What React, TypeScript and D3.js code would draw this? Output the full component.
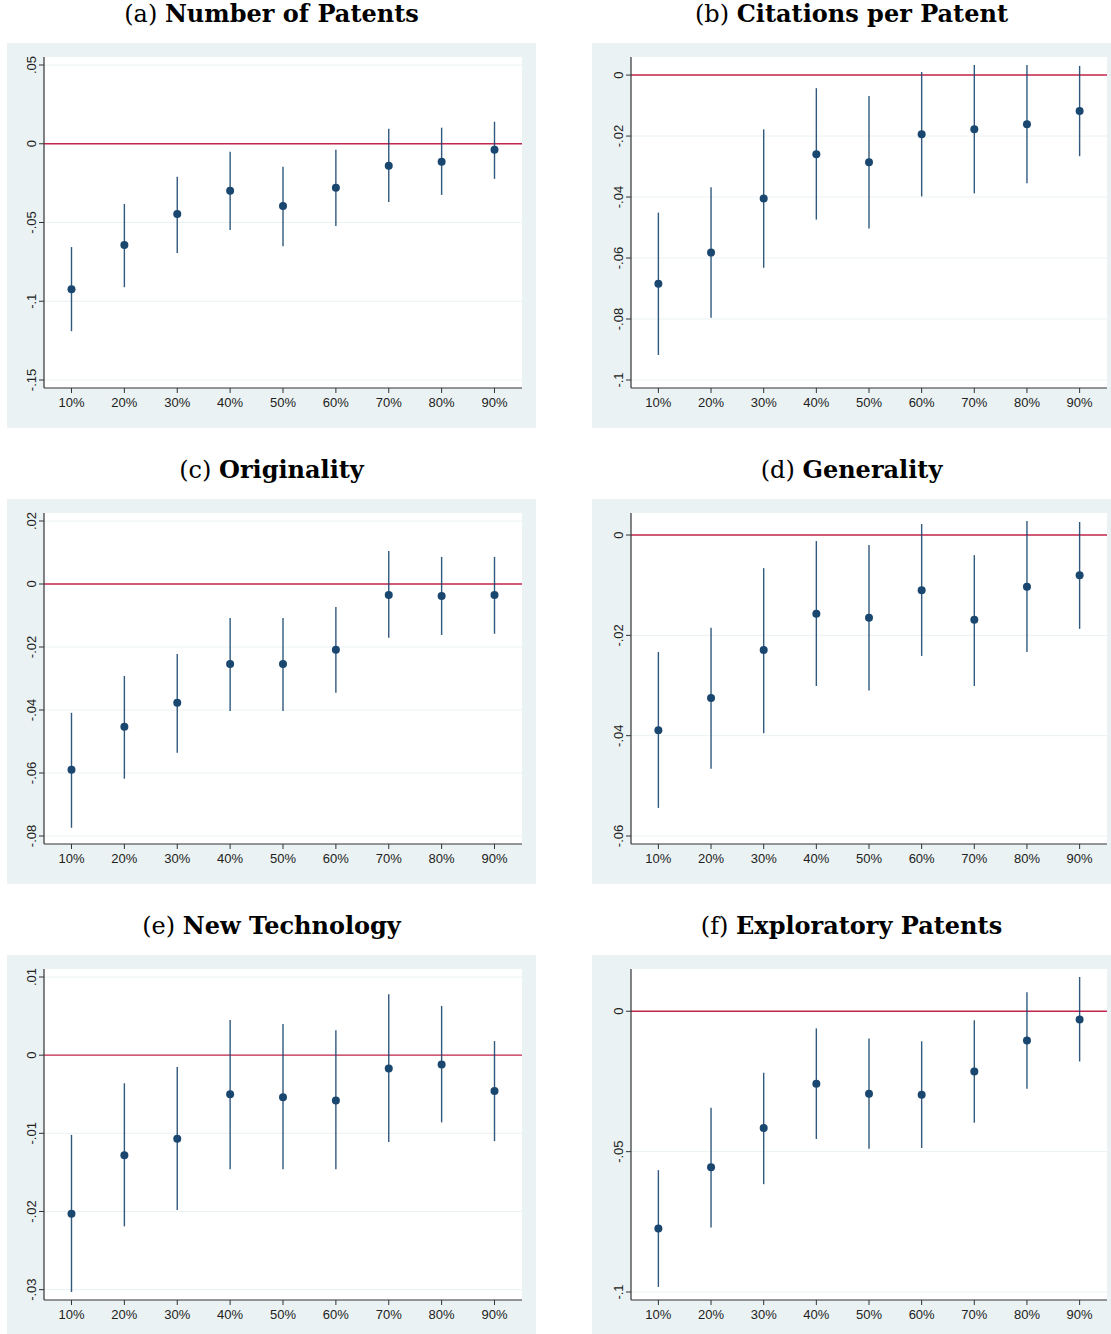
import React from 'react';
import * as d3 from 'd3';

// decile groups on the x axis
const deciles = ['10%', '20%', '30%', '40%', '50%', '60%', '70%', '80%', '90%'];

// (a) number of patents
const patentsEst = [-0.0924, -0.0643, -0.0446, -0.0299, -0.0395, -0.028, -0.014, -0.0115, -0.0038];
const patentsLo = [-0.119, -0.0911, -0.0694, -0.0548, -0.065, -0.0522, -0.037, -0.0325, -0.0223];
const patentsHi = [-0.0656, -0.0382, -0.021, -0.0051, -0.0146, -0.0038, 0.0096, 0.0102, 0.014];
const patentsTicks = [0.05, 0, -0.05, -0.1, -0.15];
const patentsTickLabels = ['.05', '0', '-.05', '-.1', '-.15'];

// (b) citations per patent
const citesEst = [-0.0684, -0.0582, -0.0405, -0.026, -0.0286, -0.0194, -0.0178, -0.0161, -0.0118];
const citesLo = [-0.0918, -0.0796, -0.0632, -0.0474, -0.0503, -0.0398, -0.0388, -0.0355, -0.0266];
const citesHi = [-0.0451, -0.0368, -0.0178, -0.0043, -0.0069, 0.001, 0.0033, 0.0033, 0.003];
const citesTicks = [0, -0.02, -0.04, -0.06, -0.08, -0.1];
const citesTickLabels = ['0', '-.02', '-.04', '-.06', '-.08', '-.1'];

// (c) originality
const origEst = [-0.059, -0.0453, -0.0377, -0.0254, -0.0254, -0.0209, -0.0035, -0.0038, -0.0035];
const origLo = [-0.0774, -0.0618, -0.0536, -0.0403, -0.0403, -0.0345, -0.0171, -0.0162, -0.0158];
const origHi = [-0.0409, -0.0292, -0.0222, -0.0108, -0.0108, -0.0073, 0.0105, 0.0086, 0.0086];
const origTicks = [0.02, 0, -0.02, -0.04, -0.06, -0.08];
const origTickLabels = ['.02', '0', '-.02', '-.04', '-.06', '-.08'];

// (d) generality
const genEst = [-0.0389, -0.0325, -0.0229, -0.0157, -0.0165, -0.011, -0.0169, -0.0103, -0.008];
const genLo = [-0.0544, -0.0466, -0.0395, -0.0301, -0.031, -0.0241, -0.0301, -0.0233, -0.0187];
const genHi = [-0.0233, -0.0185, -0.0066, -0.0012, -0.002, 0.0022, -0.004, 0.0028, 0.0026];
const genTicks = [0, -0.02, -0.04, -0.06];
const genTickLabels = ['0', '-.02', '-.04', '-.06'];

// (e) new technology
const newTechEst = [-0.0203, -0.0128, -0.0107, -0.005, -0.0054, -0.0058, -0.0017, -0.0012, -0.0046];
const newTechLo = [-0.0303, -0.0219, -0.0198, -0.0146, -0.0146, -0.0146, -0.0111, -0.0086, -0.011];
const newTechHi = [-0.0102, -0.0036, -0.0015, 0.0045, 0.004, 0.0032, 0.0078, 0.0063, 0.0018];
const newTechTicks = [0.01, 0, -0.01, -0.02, -0.03];
const newTechTickLabels = ['.01', '0', '-.01', '-.02', '-.03'];

// (f) exploratory patents
const explEst = [-0.0774, -0.0556, -0.0416, -0.0258, -0.0294, -0.0297, -0.0215, -0.0104, -0.0029];
const explLo = [-0.0982, -0.077, -0.0616, -0.0455, -0.049, -0.0487, -0.0397, -0.0276, -0.0179];
const explHi = [-0.0566, -0.0344, -0.0219, -0.0061, -0.0097, -0.0107, -0.0032, 0.0068, 0.0122];
const explTicks = [0, -0.05, -0.1];
const explTickLabels = ['0', '-.05', '-.1'];

const panels = [
  { letter: '(a)', title: 'Number of Patents', est: patentsEst, lo: patentsLo, hi: patentsHi, ticks: patentsTicks, labels: patentsTickLabels },
  { letter: '(b)', title: 'Citations per Patent', est: citesEst, lo: citesLo, hi: citesHi, ticks: citesTicks, labels: citesTickLabels },
  { letter: '(c)', title: 'Originality', est: origEst, lo: origLo, hi: origHi, ticks: origTicks, labels: origTickLabels },
  { letter: '(d)', title: 'Generality', est: genEst, lo: genLo, hi: genHi, ticks: genTicks, labels: genTickLabels },
  { letter: '(e)', title: 'New Technology', est: newTechEst, lo: newTechLo, hi: newTechHi, ticks: newTechTicks, labels: newTechTickLabels },
  { letter: '(f)', title: 'Exploratory Patents', est: explEst, lo: explLo, hi: explHi, ticks: explTicks, labels: explTickLabels },
];

const W = 1111;
const H = 1334;
const columns = [
  { bgX: 7, bgW: 529, left: 44, right: 522 },
  { bgX: 592, bgW: 519, left: 631, right: 1107 },
];
const rowTops = [43, 499, 955];
const BG_H = 385;

const BG = '#eaf2f3';
const NAVY = '#1a476f';
const RED = '#c4264b';
const AXIS = '#333';

const Panel = ({ p, col, top }) => {
  const plotTop = top + 14;
  const axisY = top + 345;
  const x = d3.scalePoint().domain(deciles).range([col.left, col.right]).padding(0.52);
  const ext = d3.extent([...p.ticks, ...p.lo, ...p.hi]);
  const y = d3.scaleLinear().domain(ext).range([axisY - 8, plotTop + 8]);
  const sans = "'Liberation Sans', Arial, sans-serif";

  return (
    <g>
      <text x={col.bgX + col.bgW / 2} y={top - 21} textAnchor="middle" fontFamily="'DejaVu Serif', serif" fontSize={24} fill="#000">
        <tspan>{p.letter} </tspan>
        <tspan fontWeight="bold">{p.title}</tspan>
      </text>
      <rect x={col.bgX} y={top} width={col.bgW} height={BG_H} fill={BG} />
      <rect x={col.left} y={plotTop} width={col.right - col.left} height={axisY - plotTop} fill="#fff" />
      {p.ticks.map((t) => (
        <line key={'g' + t} x1={col.left} x2={col.right} y1={y(t)} y2={y(t)} stroke={BG} strokeWidth={1} />
      ))}
      <line x1={col.left} x2={col.right} y1={y(0)} y2={y(0)} stroke={RED} strokeWidth={1.4} />
      {p.est.map((v, i) => (
        <line key={'ci' + i} x1={x(deciles[i])} x2={x(deciles[i])} y1={y(p.lo[i])} y2={y(p.hi[i])} stroke={NAVY} strokeWidth={1.4} strokeOpacity={0.9} />
      ))}
      {p.est.map((v, i) => (
        <circle key={'pt' + i} cx={x(deciles[i])} cy={y(v)} r={4} fill={NAVY} />
      ))}
      <line x1={col.left} x2={col.left} y1={plotTop} y2={axisY} stroke={AXIS} strokeWidth={1.2} />
      <line x1={col.left} x2={col.right} y1={axisY} y2={axisY} stroke={AXIS} strokeWidth={1.2} />
      {p.ticks.map((t, i) => (
        <g key={'yt' + t}>
          <line x1={col.left - 5} x2={col.left} y1={y(t)} y2={y(t)} stroke={AXIS} strokeWidth={1} />
          <text transform={`translate(${col.left - 8},${y(t)}) rotate(-90)`} textAnchor="middle" fontFamily={sans} fontSize={13} fill="#222">
            {p.labels[i]}
          </text>
        </g>
      ))}
      {deciles.map((d) => (
        <g key={'xt' + d}>
          <line x1={x(d)} x2={x(d)} y1={axisY} y2={axisY + 5} stroke={AXIS} strokeWidth={1} />
          <text x={x(d)} y={axisY + 19} textAnchor="middle" fontFamily={sans} fontSize={13} fill="#222">
            {d}
          </text>
        </g>
      ))}
    </g>
  );
};

export default function App() {
  return (
    <svg width={W} height={H} style={{ position: 'absolute', left: 0, top: 0, background: '#fff' }}>
      {panels.map((p, i) => (
        <Panel key={p.letter} p={p} col={columns[i % 2]} top={rowTops[Math.floor(i / 2)]} />
      ))}
    </svg>
  );
}
